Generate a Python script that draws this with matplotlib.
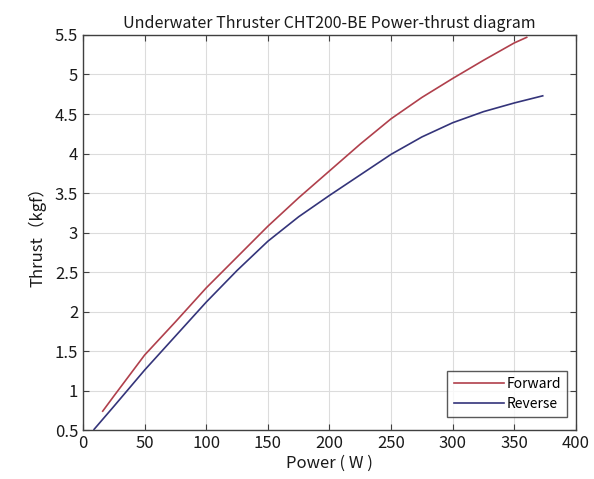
import matplotlib
matplotlib.use("Agg")
import matplotlib.pyplot as plt

plt.rcParams['font.family'] = ['Noto Sans CJK SC', 'DejaVu Sans']

# Power (W) vs thrust (kgf) for the CHT200-BE thruster
forward_power = [16, 25, 50, 75, 100, 125, 150, 175, 200, 225, 250, 275, 300, 325, 350, 360]
forward_thrust = [0.74, 0.93, 1.45, 1.87, 2.30, 2.69, 3.08, 3.44, 3.78, 4.12, 4.44, 4.71, 4.95, 5.18, 5.40, 5.47]

reverse_power = [9, 25, 50, 75, 100, 125, 150, 175, 200, 225, 250, 275, 300, 325, 350, 373]
reverse_thrust = [0.51, 0.80, 1.26, 1.69, 2.12, 2.52, 2.89, 3.20, 3.47, 3.73, 3.99, 4.21, 4.39, 4.53, 4.64, 4.73]

x_ticks = [0, 50, 100, 150, 200, 250, 300, 350, 400]
y_ticks = [0.5, 1, 1.5, 2, 2.5, 3, 3.5, 4, 4.5, 5, 5.5]
y_tick_labels = ['0.5', '1', '1.5', '2', '2.5', '3', '3.5', '4', '4.5', '5', '5.5']

fig = plt.figure(figsize=(5.94, 4.79), dpi=100)
ax = fig.add_axes([0.1397, 0.102, 0.8300, 0.825])

ax.plot(forward_power, forward_thrust, color='#b0404c', lw=1.2, label='Forward')
ax.plot(reverse_power, reverse_thrust, color='#34347a', lw=1.2, label='Reverse')

ax.set_xlim(0, 400)
ax.set_ylim(0.5, 5.5)
ax.set_xticks(x_ticks)
ax.set_yticks(y_ticks)
ax.set_yticklabels(y_tick_labels)
ax.grid(True, color='#dcdcdc', lw=0.8)
ax.set_axisbelow(True)

ax.tick_params(direction='in', top=True, right=True, length=4, width=0.8,
               colors='#404040', labelcolor='#1a1a1a', labelsize=12)
for s in ax.spines.values():
    s.set_color('#404040')
    s.set_linewidth(1.0)

ax.set_title('Underwater Thruster CHT200-BE Power-thrust diagram', fontsize=11.5, color='#1a1a1a', pad=5)
ax.set_xlabel('Power ( W )', fontsize=12, color='#1a1a1a', labelpad=2)
ax.set_ylabel('Thrust（kgf）', fontsize=12, color='#1a1a1a', labelpad=6)

leg = ax.legend(loc='lower right', fontsize=10, frameon=True, fancybox=False,
                handlelength=3.6, handletextpad=0.2, borderpad=0.45,
                labelspacing=0.4, borderaxespad=0,
                bbox_to_anchor=(0.982, 0.033))
leg.get_frame().set_edgecolor('#303030')
leg.get_frame().set_linewidth(1.0)

fig.savefig('out.png', dpi=100, facecolor='white')
